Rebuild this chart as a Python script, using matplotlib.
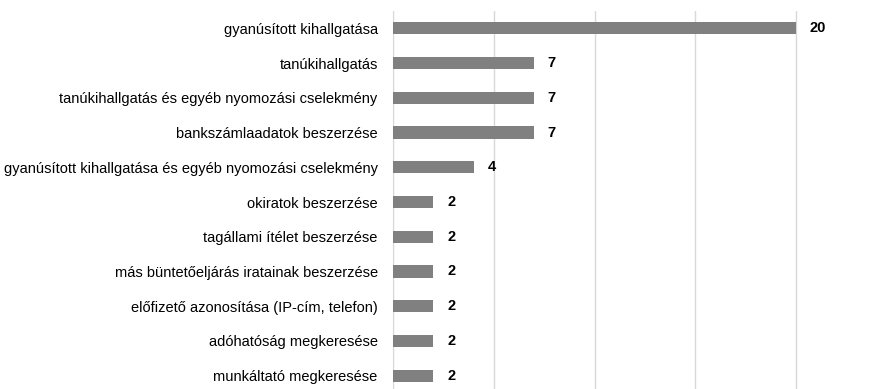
import matplotlib
matplotlib.use('Agg')
import matplotlib.pyplot as plt

categories = [
    'gyanúsított kihallgatása',
    'tanúkihallgatás',
    'tanúkihallgatás és egyéb nyomozási cselekmény',
    'bankszámlaadatok beszerzése',
    'gyanúsított kihallgatása és egyéb nyomozási cselekmény',
    'okiratok beszerzése',
    'tagállami ítélet beszerzése',
    'más büntetőeljárás iratainak beszerzése',
    'előfizető azonosítása (IP-cím, telefon)',
    'adóhatóság megkeresése',
    'munkáltató megkeresése',
]
counts = [20, 7, 7, 7, 4, 2, 2, 2, 2, 2, 2]

plt.rcParams['font.family'] = ['Liberation Sans', 'DejaVu Sans']

fig = plt.figure(figsize=(8.89, 3.89), dpi=100)
# tengely: bal szél 393 px, 1 egység ~20.15 px
ax = fig.add_axes([393 / 889, -4 / 389, 25 * 20.15 / 889, 382 / 389])

y = list(range(len(categories)))
ax.barh(y, counts, height=0.35, color='#808080', zorder=3)
for yi, v in zip(y, counts):
    ax.text(v + 0.68, yi, str(v), va='center', ha='left',
            fontsize=10.5, fontweight='bold', color='black')

ax.set_xlim(0, 25)
ax.set_ylim(len(categories) - 0.5, -0.5)
ax.set_xticks([0, 5, 10, 15, 20, 25])
ax.set_xticklabels([])
ax.set_yticks(y)
ax.set_yticklabels(categories, fontsize=10.5)
ax.tick_params(axis='both', length=0)
ax.tick_params(axis='y', pad=11)
ax.grid(axis='x', color='#d9d9d9', linewidth=1, zorder=0)
for s in ['top', 'right', 'bottom']:
    ax.spines[s].set_visible(False)
ax.spines['left'].set_color('#d9d9d9')

fig.savefig('out.png', dpi=100)
